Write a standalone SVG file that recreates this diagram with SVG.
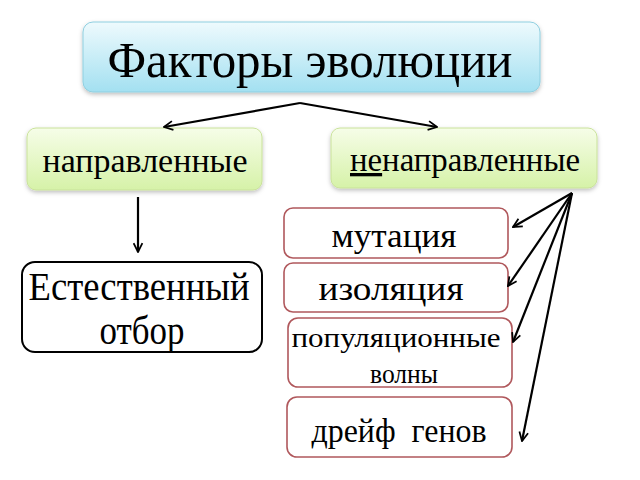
<svg xmlns="http://www.w3.org/2000/svg" width="640" height="480" viewBox="0 0 640 480">
<defs>
<linearGradient id="gBlue" x1="0" y1="0" x2="0" y2="1">
<stop offset="0" stop-color="#eefafd"/>
<stop offset="1" stop-color="#a3e0f1"/>
</linearGradient>
<linearGradient id="gGreen" x1="0" y1="0" x2="0" y2="1">
<stop offset="0" stop-color="#f6fde8"/>
<stop offset="1" stop-color="#d6f2a8"/>
</linearGradient>
<filter id="sh" x="-10%" y="-10%" width="120%" height="130%">
<feDropShadow dx="0" dy="2" stdDeviation="2" flood-color="#000" flood-opacity="0.25"/>
</filter>
<marker id="ah" viewBox="0 0 10 10" refX="9" refY="5" markerWidth="5" markerHeight="5" orient="auto" markerUnits="strokeWidth">
<path d="M1,1 L9,5 L1,9" fill="none" stroke="#000" stroke-width="1.6"/>
</marker>
</defs>
<rect width="640" height="480" fill="#fff"/>
<g id="title">
<rect x="83" y="22" width="457" height="70" rx="10" fill="url(#gBlue)" stroke="#8fcfe0" stroke-width="1" filter="url(#sh)"/>
<text x="310" y="77" font-size="50" font-family="Liberation Serif" text-anchor="middle" textLength="405" lengthAdjust="spacingAndGlyphs">Факторы эволюции</text>
</g>
<g id="directed">
<rect x="27" y="128" width="235" height="62" rx="9" fill="url(#gGreen)" stroke="#c9e29a" stroke-width="1" filter="url(#sh)"/>
<text x="145" y="172" font-size="33" font-family="Liberation Serif" text-anchor="middle" textLength="205" lengthAdjust="spacingAndGlyphs">направленные</text>
</g>
<g id="undirected">
<rect x="331" y="128" width="266" height="60" rx="9" fill="url(#gGreen)" stroke="#c9e29a" stroke-width="1" filter="url(#sh)"/>
<text x="465" y="171" font-size="33" font-family="Liberation Serif" text-anchor="middle" textLength="230" lengthAdjust="spacingAndGlyphs"><tspan text-decoration="underline">не</tspan>направленные</text>
</g>
<g id="selection">
<rect x="22" y="262" width="240" height="90" rx="13" fill="#fff" stroke="#000" stroke-width="2"/>
<text x="139" y="300" font-size="40" font-family="Liberation Serif" text-anchor="middle" textLength="221" lengthAdjust="spacingAndGlyphs">Естественный</text>
<text x="142" y="344" font-size="40" font-family="Liberation Serif" text-anchor="middle" textLength="85" lengthAdjust="spacingAndGlyphs">отбор</text>
</g>
<g id="mutation">
<rect x="284" y="208" width="224" height="50" rx="9" fill="#fff" stroke="#b0585c" stroke-width="1.6"/>
<text x="394" y="247" font-size="34" font-family="Liberation Serif" text-anchor="middle" textLength="125" lengthAdjust="spacingAndGlyphs">мутация</text>
</g>
<g id="isolation">
<rect x="284" y="263" width="224" height="49" rx="9" fill="#fff" stroke="#b0585c" stroke-width="1.6"/>
<text x="391" y="300" font-size="34" font-family="Liberation Serif" text-anchor="middle" textLength="145" lengthAdjust="spacingAndGlyphs">изоляция</text>
</g>
<g id="waves">
<rect x="288" y="318" width="224" height="69" rx="10" fill="#fff" stroke="#b0585c" stroke-width="1.6"/>
<text x="396" y="347" font-size="28" font-family="Liberation Serif" text-anchor="middle" textLength="209" lengthAdjust="spacingAndGlyphs">популяционные</text>
<text x="404" y="383" font-size="28" font-family="Liberation Serif" text-anchor="middle" textLength="68" lengthAdjust="spacingAndGlyphs">волны</text>
</g>
<g id="drift">
<rect x="287" y="397" width="225" height="60" rx="10" fill="#fff" stroke="#b0585c" stroke-width="1.6"/>
<text x="399" y="442" font-size="34" font-family="Liberation Serif" text-anchor="middle" textLength="175" lengthAdjust="spacingAndGlyphs" xml:space="preserve">дрейф  генов</text>
</g>
<g id="connectors" fill="none" stroke="#000" stroke-width="2.2" marker-end="url(#ah)">
<path d="M300,103 L164,127"/>
<path d="M300,103 L437,127"/>
<path d="M138,197 L138,252"/>
<path d="M572,193 L513,227"/>
<path d="M572,193 L508,286"/>
<path d="M572,193 L513,342"/>
<path d="M572,193 L522,441"/>
</g>
</svg>
